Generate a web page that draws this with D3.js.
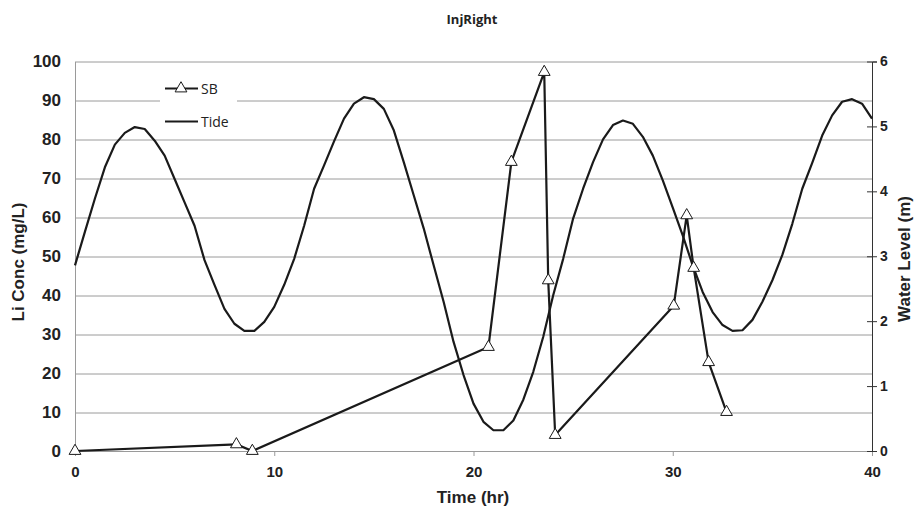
<!DOCTYPE html>
<html>
<head>
<meta charset="utf-8">
<script src="https://cdn.jsdelivr.net/npm/d3@7"></script>
<style>
  body { margin: 0; background: #fff; }
  svg { display: block; }
</style>
</head>
<body>
<div id="chart"></div>
<script>
// SB samples: time (hr) and Li concentration (mg/L)
const sbTime = [0, 8.1, 8.9, 20.75, 21.9, 23.55, 23.75, 24.1, 30.05, 30.7, 31.05, 31.8, 32.7];
const sbConc = [0, 1.7, 0, 26.7, 74.2, 97.3, 43.8, 4.1, 37.3, 60.5, 47, 22.8, 10];

// Tide: water level (m) every half hour, 0 to 40 hr
const tideTime = d3.range(0, 40.01, 0.5);
const tideLevel = [
  2.86, 3.38, 3.89, 4.37, 4.72, 4.90, 4.99, 4.96, 4.78, 4.55,
  4.19, 3.83, 3.47, 2.94, 2.56, 2.19, 1.96, 1.85, 1.85, 1.99,
  2.22, 2.56, 2.96, 3.47, 4.04, 4.40, 4.77, 5.12, 5.35, 5.45,
  5.42, 5.27, 4.94, 4.45, 3.94, 3.43, 2.86, 2.30, 1.68, 1.17,
  0.73, 0.45, 0.32, 0.32, 0.47, 0.79, 1.22, 1.76, 2.40, 2.96,
  3.58, 4.04, 4.45, 4.80, 5.02, 5.09, 5.04, 4.84, 4.55, 4.17,
  3.75, 3.32, 2.86, 2.45, 2.14, 1.94, 1.85, 1.86, 2.02, 2.30,
  2.63, 3.02, 3.50, 4.04, 4.44, 4.86, 5.17, 5.38, 5.42, 5.35,
  5.12
];

const xTicks = [0, 10, 20, 30, 40];
const leftTicks = d3.range(0, 101, 10);
const rightTicks = [0, 1, 2, 3, 4, 5, 6];

const W = 914, H = 511;
const margin = { top: 61.5, right: 42, bottom: 60, left: 75 };
const width = W - margin.left - margin.right,
    height = H - margin.top - margin.bottom;

const svg = d3.select("#chart").append("svg")
    .attr("width", W)
    .attr("height", H);

const g = svg.append("g")
    .attr("transform", `translate(${margin.left},${margin.top})`);

const x = d3.scaleLinear().domain([0, 40]).range([0, width]);
const yL = d3.scaleLinear().domain([0, 100]).range([height, 0]);
const yR = d3.scaleLinear().domain([0, 6]).range([height, 0]);

const tickFont = "'Liberation Sans', Arial, sans-serif";
const textFont = "'Open Sans', 'Noto Sans', sans-serif";
const ink = "#1a1a1a";

// gridlines
g.append("g")
    .selectAll("line")
    .data(leftTicks.filter(d => d > 0))
    .join("line")
    .attr("x1", 0)
    .attr("x2", width)
    .attr("y1", d => Math.round(yL(d)) + 0.5)
    .attr("y2", d => Math.round(yL(d)) + 0.5)
    .attr("stroke", "#9a9a9a")
    .attr("stroke-width", 1);

// bottom axis
const xAxis = g.append("g")
    .attr("transform", `translate(0,${height})`)
    .call(d3.axisBottom(x).tickValues(xTicks).tickSize(5).tickPadding(10));
xAxis.select(".domain").attr("stroke", "#9a9a9a");
xAxis.selectAll(".tick line").attr("stroke", "#9a9a9a");
xAxis.selectAll("text")
    .style("font-family", tickFont)
    .style("font-weight", "bold")
    .style("font-size", "15px")
    .attr("fill", "#222");

// left axis
const yAxisL = g.append("g")
    .call(d3.axisLeft(yL).tickValues(leftTicks).tickSize(0).tickPadding(14));
yAxisL.select(".domain").attr("stroke", "#9a9a9a");
yAxisL.selectAll("text")
    .style("font-family", tickFont)
    .style("font-weight", "bold")
    .style("font-size", "17px")
    .attr("fill", "#222");

// right axis
const yAxisR = g.append("g")
    .attr("transform", `translate(${width},0)`)
    .call(d3.axisRight(yR).tickValues(rightTicks).tickFormat(d3.format("d")).tickSize(5).tickPadding(3));
yAxisR.select(".domain").attr("stroke", "#333");
yAxisR.selectAll(".tick line").attr("stroke", "#333").attr("x1", -5);
yAxisR.selectAll("text")
    .style("font-family", tickFont)
    .style("font-weight", "bold")
    .style("font-size", "14px")
    .attr("fill", "#222");

// tide line
const tideLine = d3.line()
    .x((d, i) => x(tideTime[i]))
    .y(d => yR(d));

g.append("path")
    .datum(tideLevel)
    .attr("fill", "none")
    .attr("stroke", ink)
    .attr("stroke-width", 2.2)
    .attr("stroke-linejoin", "round")
    .attr("d", tideLine);

// SB line with triangle markers
const sbLine = d3.line()
    .x((d, i) => x(sbTime[i]))
    .y(d => yL(d));

g.append("path")
    .datum(sbConc)
    .attr("fill", "none")
    .attr("stroke", ink)
    .attr("stroke-width", 2.2)
    .attr("stroke-linejoin", "round")
    .attr("d", sbLine);

const tri = d3.symbol().type(d3.symbolTriangle).size(60);

g.append("g")
    .selectAll("path")
    .data(sbConc)
    .join("path")
    .attr("transform", (d, i) => `translate(${x(sbTime[i])},${yL(d)})`)
    .attr("d", tri)
    .attr("fill", "#fff")
    .attr("stroke", ink)
    .attr("stroke-width", 1);

// legend
const legend = svg.append("g");
legend.append("rect")
    .attr("x", 160).attr("y", 72)
    .attr("width", 77).attr("height", 62)
    .attr("fill", "#fff");
legend.append("line")
    .attr("x1", 165).attr("x2", 198).attr("y1", 88.5).attr("y2", 88.5)
    .attr("stroke", ink).attr("stroke-width", 2);
legend.append("path")
    .attr("transform", "translate(181,88.5)")
    .attr("d", tri)
    .attr("fill", "#fff")
    .attr("stroke", ink);
legend.append("line")
    .attr("x1", 165).attr("x2", 198).attr("y1", 121.5).attr("y2", 121.5)
    .attr("stroke", ink).attr("stroke-width", 2);
legend.selectAll("text")
    .data(["SB", "Tide"])
    .join("text")
    .attr("x", 201)
    .attr("y", (d, i) => 93.5 + i * 33)
    .style("font-family", textFont)
    .style("font-size", "14px")
    .attr("fill", "#222")
    .text(d => d);

// title and axis titles
svg.append("text")
    .attr("x", 472).attr("y", 24)
    .attr("text-anchor", "middle")
    .style("font-family", textFont)
    .style("font-weight", "bold")
    .style("font-size", "13px")
    .attr("fill", "#222")
    .text("InjRight");

svg.append("text")
    .attr("x", 473).attr("y", 503)
    .attr("text-anchor", "middle")
    .style("font-family", tickFont)
    .style("font-weight", "bold")
    .style("font-size", "17px")
    .attr("fill", "#222")
    .text("Time (hr)");

svg.append("text")
    .attr("transform", "translate(24,262) rotate(-90)")
    .attr("text-anchor", "middle")
    .style("font-family", tickFont)
    .style("font-weight", "bold")
    .style("font-size", "17px")
    .attr("fill", "#222")
    .text("Li Conc (mg/L)");

svg.append("text")
    .attr("transform", "translate(910,259) rotate(-90)")
    .attr("text-anchor", "middle")
    .style("font-family", tickFont)
    .style("font-weight", "bold")
    .style("font-size", "17px")
    .attr("fill", "#222")
    .text("Water Level (m)");
</script>
</body>
</html>
